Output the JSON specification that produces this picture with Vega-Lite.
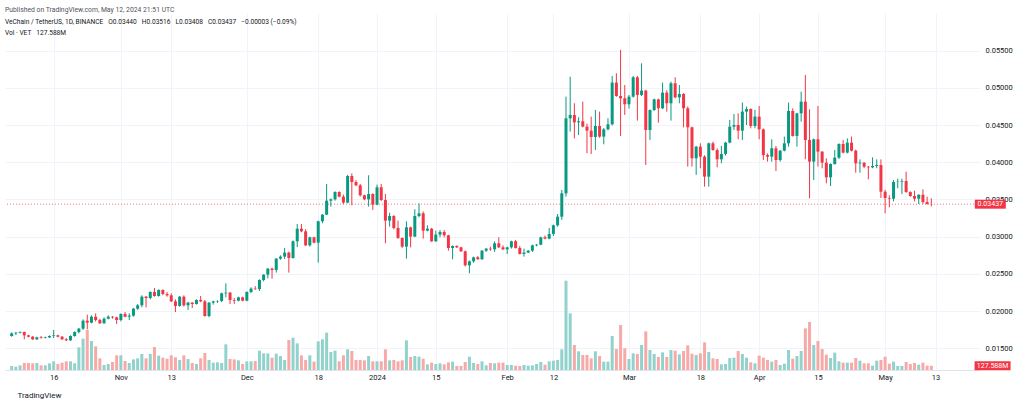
{
  "$schema": "https://vega.github.io/schema/vega-lite/v6.json",
  "width": 975,
  "height": 357,
  "autosize": {"type": "none"},
  "padding": {"left": 5, "top": 13, "right": 44, "bottom": 34},
  "background": "white",
  "title": {
    "text": "Published on TradingView.com, May 12, 2024 21:51 UTC",
    "subtitle": ["\u2002VeChain / TetherUS, 1D, BINANCE\u2002 O0.03440\u2002 H0.03516\u2002 L0.03408\u2002 C0.03437\u2002 −0.00003 (−0.09%)", "\u2002Vol · VET\u2002 127.588M"],
    "anchor": "start",
    "frame": "group",
    "font": "Roboto",
    "fontSize": 6.8,
    "fontWeight": "normal",
    "color": "#50535e",
    "subtitleFont": "Roboto",
    "subtitleFontSize": 6.6,
    "subtitleColor": "#131722",
    "subtitlePadding": 6,
    "subtitleLineHeight": 11,
    "offset": -24
  },
  "data": {
    "values": [
      {"date": "2023-10-06", "open": 0.01665, "high": 0.01715, "low": 0.01656, "close": 0.01701, "volume": 120},
      {"date": "2023-10-07", "open": 0.01701, "high": 0.01719, "low": 0.01679, "close": 0.01710, "volume": 100},
      {"date": "2023-10-08", "open": 0.01710, "high": 0.01728, "low": 0.01701, "close": 0.01719, "volume": 140},
      {"date": "2023-10-09", "open": 0.01719, "high": 0.01724, "low": 0.01621, "close": 0.01674, "volume": 210},
      {"date": "2023-10-10", "open": 0.01674, "high": 0.01683, "low": 0.01647, "close": 0.01656, "volume": 210},
      {"date": "2023-10-11", "open": 0.01656, "high": 0.01665, "low": 0.01612, "close": 0.01621, "volume": 200},
      {"date": "2023-10-12", "open": 0.01621, "high": 0.01656, "low": 0.01612, "close": 0.01647, "volume": 210},
      {"date": "2023-10-13", "open": 0.01647, "high": 0.01665, "low": 0.01630, "close": 0.01638, "volume": 140},
      {"date": "2023-10-14", "open": 0.01638, "high": 0.01656, "low": 0.01634, "close": 0.01647, "volume": 140},
      {"date": "2023-10-15", "open": 0.01647, "high": 0.01674, "low": 0.01638, "close": 0.01665, "volume": 200},
      {"date": "2023-10-16", "open": 0.01665, "high": 0.01746, "low": 0.01638, "close": 0.01674, "volume": 260},
      {"date": "2023-10-17", "open": 0.01674, "high": 0.01683, "low": 0.01647, "close": 0.01656, "volume": 180},
      {"date": "2023-10-18", "open": 0.01656, "high": 0.01665, "low": 0.01612, "close": 0.01621, "volume": 220},
      {"date": "2023-10-19", "open": 0.01621, "high": 0.01638, "low": 0.01598, "close": 0.01607, "volume": 260},
      {"date": "2023-10-20", "open": 0.01607, "high": 0.01674, "low": 0.01600, "close": 0.01665, "volume": 260},
      {"date": "2023-10-21", "open": 0.01665, "high": 0.01728, "low": 0.01656, "close": 0.01719, "volume": 200},
      {"date": "2023-10-22", "open": 0.01719, "high": 0.01773, "low": 0.01701, "close": 0.01764, "volume": 680},
      {"date": "2023-10-23", "open": 0.01764, "high": 0.01889, "low": 0.01746, "close": 0.01871, "volume": 940},
      {"date": "2023-10-24", "open": 0.01871, "high": 0.01952, "low": 0.01755, "close": 0.01845, "volume": 1200},
      {"date": "2023-10-25", "open": 0.01845, "high": 0.01943, "low": 0.01836, "close": 0.01925, "volume": 870},
      {"date": "2023-10-26", "open": 0.01925, "high": 0.01970, "low": 0.01860, "close": 0.01880, "volume": 710},
      {"date": "2023-10-27", "open": 0.01880, "high": 0.01898, "low": 0.01827, "close": 0.01836, "volume": 350},
      {"date": "2023-10-28", "open": 0.01836, "high": 0.01916, "low": 0.01830, "close": 0.01898, "volume": 150},
      {"date": "2023-10-29", "open": 0.01898, "high": 0.01943, "low": 0.01889, "close": 0.01925, "volume": 180},
      {"date": "2023-10-30", "open": 0.01925, "high": 0.01934, "low": 0.01898, "close": 0.01916, "volume": 240},
      {"date": "2023-10-31", "open": 0.01916, "high": 0.01925, "low": 0.01827, "close": 0.01880, "volume": 440},
      {"date": "2023-11-01", "open": 0.01880, "high": 0.01970, "low": 0.01862, "close": 0.01961, "volume": 440},
      {"date": "2023-11-02", "open": 0.01961, "high": 0.01988, "low": 0.01916, "close": 0.01925, "volume": 270},
      {"date": "2023-11-03", "open": 0.01925, "high": 0.01970, "low": 0.01880, "close": 0.01939, "volume": 210},
      {"date": "2023-11-04", "open": 0.01939, "high": 0.02042, "low": 0.01925, "close": 0.02033, "volume": 320},
      {"date": "2023-11-05", "open": 0.02033, "high": 0.02095, "low": 0.02015, "close": 0.02078, "volume": 350},
      {"date": "2023-11-06", "open": 0.02078, "high": 0.02212, "low": 0.02051, "close": 0.02194, "volume": 480},
      {"date": "2023-11-07", "open": 0.02194, "high": 0.02203, "low": 0.02051, "close": 0.02176, "volume": 350},
      {"date": "2023-11-08", "open": 0.02176, "high": 0.02266, "low": 0.02158, "close": 0.02257, "volume": 480},
      {"date": "2023-11-09", "open": 0.02257, "high": 0.02310, "low": 0.02194, "close": 0.02203, "volume": 690},
      {"date": "2023-11-10", "open": 0.02203, "high": 0.02293, "low": 0.02194, "close": 0.02284, "volume": 430},
      {"date": "2023-11-11", "open": 0.02284, "high": 0.02293, "low": 0.02212, "close": 0.02230, "volume": 370},
      {"date": "2023-11-12", "open": 0.02230, "high": 0.02257, "low": 0.02194, "close": 0.02212, "volume": 340},
      {"date": "2023-11-13", "open": 0.02212, "high": 0.02239, "low": 0.02122, "close": 0.02131, "volume": 440},
      {"date": "2023-11-14", "open": 0.02131, "high": 0.02158, "low": 0.01988, "close": 0.02069, "volume": 380},
      {"date": "2023-11-15", "open": 0.02069, "high": 0.02203, "low": 0.02060, "close": 0.02194, "volume": 300},
      {"date": "2023-11-16", "open": 0.02194, "high": 0.02212, "low": 0.02060, "close": 0.02078, "volume": 440},
      {"date": "2023-11-17", "open": 0.02078, "high": 0.02125, "low": 0.02015, "close": 0.02114, "volume": 330},
      {"date": "2023-11-18", "open": 0.02114, "high": 0.02120, "low": 0.02042, "close": 0.02096, "volume": 210},
      {"date": "2023-11-19", "open": 0.02096, "high": 0.02158, "low": 0.02087, "close": 0.02149, "volume": 180},
      {"date": "2023-11-20", "open": 0.02149, "high": 0.02203, "low": 0.02120, "close": 0.02131, "volume": 350},
      {"date": "2023-11-21", "open": 0.02131, "high": 0.02149, "low": 0.01925, "close": 0.01934, "volume": 510},
      {"date": "2023-11-22", "open": 0.01934, "high": 0.02120, "low": 0.01916, "close": 0.02114, "volume": 300},
      {"date": "2023-11-23", "open": 0.02114, "high": 0.02140, "low": 0.02087, "close": 0.02131, "volume": 220},
      {"date": "2023-11-24", "open": 0.02131, "high": 0.02145, "low": 0.02110, "close": 0.02136, "volume": 230},
      {"date": "2023-11-25", "open": 0.02136, "high": 0.02248, "low": 0.02120, "close": 0.02239, "volume": 210},
      {"date": "2023-11-26", "open": 0.02239, "high": 0.02373, "low": 0.02185, "close": 0.02248, "volume": 770},
      {"date": "2023-11-27", "open": 0.02248, "high": 0.02257, "low": 0.02096, "close": 0.02149, "volume": 330},
      {"date": "2023-11-28", "open": 0.02149, "high": 0.02175, "low": 0.02096, "close": 0.02140, "volume": 320},
      {"date": "2023-11-29", "open": 0.02140, "high": 0.02194, "low": 0.02131, "close": 0.02185, "volume": 290},
      {"date": "2023-11-30", "open": 0.02185, "high": 0.02194, "low": 0.02131, "close": 0.02140, "volume": 180},
      {"date": "2023-12-01", "open": 0.02140, "high": 0.02266, "low": 0.02131, "close": 0.02257, "volume": 260},
      {"date": "2023-12-02", "open": 0.02257, "high": 0.02320, "low": 0.02240, "close": 0.02302, "volume": 260},
      {"date": "2023-12-03", "open": 0.02302, "high": 0.02335, "low": 0.02285, "close": 0.02295, "volume": 270},
      {"date": "2023-12-04", "open": 0.02295, "high": 0.02427, "low": 0.02270, "close": 0.02418, "volume": 580},
      {"date": "2023-12-05", "open": 0.02418, "high": 0.02495, "low": 0.02400, "close": 0.02490, "volume": 500},
      {"date": "2023-12-06", "open": 0.02490, "high": 0.02580, "low": 0.02440, "close": 0.02571, "volume": 500},
      {"date": "2023-12-07", "open": 0.02571, "high": 0.02585, "low": 0.02436, "close": 0.02553, "volume": 370},
      {"date": "2023-12-08", "open": 0.02553, "high": 0.02714, "low": 0.02517, "close": 0.02705, "volume": 490},
      {"date": "2023-12-09", "open": 0.02705, "high": 0.02750, "low": 0.02690, "close": 0.02732, "volume": 420},
      {"date": "2023-12-10", "open": 0.02732, "high": 0.02848, "low": 0.02700, "close": 0.02786, "volume": 300},
      {"date": "2023-12-11", "open": 0.02786, "high": 0.02800, "low": 0.02517, "close": 0.02714, "volume": 900},
      {"date": "2023-12-12", "open": 0.02714, "high": 0.02950, "low": 0.02705, "close": 0.02938, "volume": 970},
      {"date": "2023-12-13", "open": 0.02938, "high": 0.03171, "low": 0.02860, "close": 0.03108, "volume": 800},
      {"date": "2023-12-14", "open": 0.03108, "high": 0.03171, "low": 0.03060, "close": 0.03072, "volume": 440},
      {"date": "2023-12-15", "open": 0.03072, "high": 0.03100, "low": 0.02875, "close": 0.02884, "volume": 300},
      {"date": "2023-12-16", "open": 0.02884, "high": 0.03000, "low": 0.02866, "close": 0.02992, "volume": 440},
      {"date": "2023-12-17", "open": 0.02992, "high": 0.03000, "low": 0.02910, "close": 0.02920, "volume": 250},
      {"date": "2023-12-18", "open": 0.02920, "high": 0.03215, "low": 0.02651, "close": 0.03207, "volume": 860},
      {"date": "2023-12-19", "open": 0.03207, "high": 0.03305, "low": 0.03180, "close": 0.03296, "volume": 920},
      {"date": "2023-12-20", "open": 0.03296, "high": 0.03708, "low": 0.03290, "close": 0.03484, "volume": 1120},
      {"date": "2023-12-21", "open": 0.03484, "high": 0.03515, "low": 0.03404, "close": 0.03502, "volume": 540},
      {"date": "2023-12-22", "open": 0.03502, "high": 0.03610, "low": 0.03484, "close": 0.03601, "volume": 580},
      {"date": "2023-12-23", "open": 0.03601, "high": 0.03610, "low": 0.03530, "close": 0.03538, "volume": 260},
      {"date": "2023-12-24", "open": 0.03538, "high": 0.03565, "low": 0.03440, "close": 0.03458, "volume": 440},
      {"date": "2023-12-25", "open": 0.03458, "high": 0.03830, "low": 0.03450, "close": 0.03816, "volume": 620},
      {"date": "2023-12-26", "open": 0.03816, "high": 0.03852, "low": 0.03422, "close": 0.03735, "volume": 570},
      {"date": "2023-12-27", "open": 0.03735, "high": 0.03760, "low": 0.03680, "close": 0.03690, "volume": 300},
      {"date": "2023-12-28", "open": 0.03690, "high": 0.03710, "low": 0.03540, "close": 0.03556, "volume": 300},
      {"date": "2023-12-29", "open": 0.03556, "high": 0.03565, "low": 0.03490, "close": 0.03502, "volume": 290},
      {"date": "2023-12-30", "open": 0.03502, "high": 0.03825, "low": 0.03404, "close": 0.03574, "volume": 420},
      {"date": "2023-12-31", "open": 0.03574, "high": 0.03583, "low": 0.03359, "close": 0.03431, "volume": 260},
      {"date": "2024-01-01", "open": 0.03431, "high": 0.03700, "low": 0.03422, "close": 0.03664, "volume": 260},
      {"date": "2024-01-02", "open": 0.03664, "high": 0.03708, "low": 0.03480, "close": 0.03493, "volume": 260},
      {"date": "2024-01-03", "open": 0.03493, "high": 0.03574, "low": 0.02911, "close": 0.03216, "volume": 620},
      {"date": "2024-01-04", "open": 0.03216, "high": 0.03323, "low": 0.03135, "close": 0.03278, "volume": 290},
      {"date": "2024-01-05", "open": 0.03278, "high": 0.03290, "low": 0.03100, "close": 0.03117, "volume": 300},
      {"date": "2024-01-06", "open": 0.03117, "high": 0.03216, "low": 0.02970, "close": 0.02983, "volume": 260},
      {"date": "2024-01-07", "open": 0.02983, "high": 0.02990, "low": 0.02850, "close": 0.02866, "volume": 290},
      {"date": "2024-01-08", "open": 0.02866, "high": 0.03207, "low": 0.02705, "close": 0.03126, "volume": 890},
      {"date": "2024-01-09", "open": 0.03126, "high": 0.03135, "low": 0.02857, "close": 0.03001, "volume": 390},
      {"date": "2024-01-10", "open": 0.03001, "high": 0.03368, "low": 0.02995, "close": 0.03278, "volume": 420},
      {"date": "2024-01-11", "open": 0.03278, "high": 0.03449, "low": 0.03260, "close": 0.03314, "volume": 400},
      {"date": "2024-01-12", "open": 0.03314, "high": 0.03340, "low": 0.02974, "close": 0.03081, "volume": 340},
      {"date": "2024-01-13", "open": 0.03081, "high": 0.03153, "low": 0.03072, "close": 0.03108, "volume": 170},
      {"date": "2024-01-14", "open": 0.03108, "high": 0.03117, "low": 0.02930, "close": 0.02938, "volume": 220},
      {"date": "2024-01-15", "open": 0.02938, "high": 0.03081, "low": 0.02930, "close": 0.03028, "volume": 180},
      {"date": "2024-01-16", "open": 0.03028, "high": 0.03090, "low": 0.02992, "close": 0.03063, "volume": 200},
      {"date": "2024-01-17", "open": 0.03063, "high": 0.03090, "low": 0.02992, "close": 0.03019, "volume": 170},
      {"date": "2024-01-18", "open": 0.03019, "high": 0.03025, "low": 0.02812, "close": 0.02848, "volume": 230},
      {"date": "2024-01-19", "open": 0.02848, "high": 0.02885, "low": 0.02696, "close": 0.02875, "volume": 250},
      {"date": "2024-01-20", "open": 0.02875, "high": 0.02885, "low": 0.02848, "close": 0.02857, "volume": 120},
      {"date": "2024-01-21", "open": 0.02857, "high": 0.02866, "low": 0.02795, "close": 0.02804, "volume": 120},
      {"date": "2024-01-22", "open": 0.02804, "high": 0.02813, "low": 0.02600, "close": 0.02615, "volume": 240},
      {"date": "2024-01-23", "open": 0.02615, "high": 0.02680, "low": 0.02508, "close": 0.02669, "volume": 400},
      {"date": "2024-01-24", "open": 0.02669, "high": 0.02732, "low": 0.02650, "close": 0.02723, "volume": 210},
      {"date": "2024-01-25", "open": 0.02723, "high": 0.02741, "low": 0.02690, "close": 0.02696, "volume": 180},
      {"date": "2024-01-26", "open": 0.02696, "high": 0.02820, "low": 0.02690, "close": 0.02812, "volume": 260},
      {"date": "2024-01-27", "open": 0.02812, "high": 0.02848, "low": 0.02795, "close": 0.02839, "volume": 140},
      {"date": "2024-01-28", "open": 0.02839, "high": 0.02866, "low": 0.02810, "close": 0.02830, "volume": 210},
      {"date": "2024-01-29", "open": 0.02830, "high": 0.02938, "low": 0.02795, "close": 0.02911, "volume": 200},
      {"date": "2024-01-30", "open": 0.02911, "high": 0.02992, "low": 0.02848, "close": 0.02857, "volume": 220},
      {"date": "2024-01-31", "open": 0.02857, "high": 0.02884, "low": 0.02820, "close": 0.02830, "volume": 220},
      {"date": "2024-02-01", "open": 0.02830, "high": 0.02866, "low": 0.02768, "close": 0.02857, "volume": 150},
      {"date": "2024-02-02", "open": 0.02857, "high": 0.02947, "low": 0.02840, "close": 0.02938, "volume": 150},
      {"date": "2024-02-03", "open": 0.02938, "high": 0.02956, "low": 0.02840, "close": 0.02848, "volume": 130},
      {"date": "2024-02-04", "open": 0.02848, "high": 0.02875, "low": 0.02760, "close": 0.02768, "volume": 120},
      {"date": "2024-02-05", "open": 0.02768, "high": 0.02839, "low": 0.02732, "close": 0.02786, "volume": 150},
      {"date": "2024-02-06", "open": 0.02786, "high": 0.02820, "low": 0.02780, "close": 0.02812, "volume": 130},
      {"date": "2024-02-07", "open": 0.02812, "high": 0.02893, "low": 0.02795, "close": 0.02884, "volume": 140},
      {"date": "2024-02-08", "open": 0.02884, "high": 0.02902, "low": 0.02870, "close": 0.02893, "volume": 180},
      {"date": "2024-02-09", "open": 0.02893, "high": 0.03000, "low": 0.02885, "close": 0.02992, "volume": 240},
      {"date": "2024-02-10", "open": 0.02992, "high": 0.03015, "low": 0.02965, "close": 0.02974, "volume": 160},
      {"date": "2024-02-11", "open": 0.02974, "high": 0.03117, "low": 0.02965, "close": 0.03037, "volume": 260},
      {"date": "2024-02-12", "open": 0.03037, "high": 0.03162, "low": 0.03010, "close": 0.03153, "volume": 280},
      {"date": "2024-02-13", "open": 0.03153, "high": 0.03305, "low": 0.03135, "close": 0.03269, "volume": 300},
      {"date": "2024-02-14", "open": 0.03269, "high": 0.03628, "low": 0.03225, "close": 0.03583, "volume": 620},
      {"date": "2024-02-15", "open": 0.03583, "high": 0.04882, "low": 0.03538, "close": 0.04591, "volume": 2680},
      {"date": "2024-02-16", "open": 0.04591, "high": 0.05151, "low": 0.04412, "close": 0.04636, "volume": 1700},
      {"date": "2024-02-17", "open": 0.04636, "high": 0.04793, "low": 0.04322, "close": 0.04537, "volume": 750},
      {"date": "2024-02-18", "open": 0.04537, "high": 0.04605, "low": 0.04367, "close": 0.04551, "volume": 560},
      {"date": "2024-02-19", "open": 0.04551, "high": 0.04815, "low": 0.04470, "close": 0.04479, "volume": 450},
      {"date": "2024-02-20", "open": 0.04479, "high": 0.04520, "low": 0.04121, "close": 0.04425, "volume": 450},
      {"date": "2024-02-21", "open": 0.04425, "high": 0.04614, "low": 0.04112, "close": 0.04340, "volume": 350},
      {"date": "2024-02-22", "open": 0.04340, "high": 0.04703, "low": 0.04166, "close": 0.04488, "volume": 560},
      {"date": "2024-02-23", "open": 0.04488, "high": 0.04681, "low": 0.04330, "close": 0.04345, "volume": 420},
      {"date": "2024-02-24", "open": 0.04345, "high": 0.04460, "low": 0.04242, "close": 0.04443, "volume": 250},
      {"date": "2024-02-25", "open": 0.04443, "high": 0.04591, "low": 0.04430, "close": 0.04511, "volume": 250},
      {"date": "2024-02-26", "open": 0.04511, "high": 0.05160, "low": 0.04495, "close": 0.05071, "volume": 1020},
      {"date": "2024-02-27", "open": 0.05071, "high": 0.05196, "low": 0.04880, "close": 0.04891, "volume": 630},
      {"date": "2024-02-28", "open": 0.04891, "high": 0.05510, "low": 0.04354, "close": 0.04860, "volume": 1350},
      {"date": "2024-02-29", "open": 0.04860, "high": 0.05039, "low": 0.04636, "close": 0.04780, "volume": 650},
      {"date": "2024-03-01", "open": 0.04780, "high": 0.04905, "low": 0.04721, "close": 0.04882, "volume": 330},
      {"date": "2024-03-02", "open": 0.04882, "high": 0.05160, "low": 0.04870, "close": 0.05142, "volume": 500},
      {"date": "2024-03-03", "open": 0.05142, "high": 0.05160, "low": 0.04560, "close": 0.04905, "volume": 480},
      {"date": "2024-03-04", "open": 0.04905, "high": 0.05330, "low": 0.04890, "close": 0.04963, "volume": 750},
      {"date": "2024-03-05", "open": 0.04963, "high": 0.04975, "low": 0.03964, "close": 0.04434, "volume": 1160},
      {"date": "2024-03-06", "open": 0.04434, "high": 0.04710, "low": 0.04300, "close": 0.04703, "volume": 600},
      {"date": "2024-03-07", "open": 0.04703, "high": 0.04855, "low": 0.04690, "close": 0.04846, "volume": 480},
      {"date": "2024-03-08", "open": 0.04846, "high": 0.04855, "low": 0.04533, "close": 0.04726, "volume": 390},
      {"date": "2024-03-09", "open": 0.04726, "high": 0.05071, "low": 0.04715, "close": 0.04936, "volume": 530},
      {"date": "2024-03-10", "open": 0.04936, "high": 0.04970, "low": 0.04681, "close": 0.04793, "volume": 390},
      {"date": "2024-03-11", "open": 0.04793, "high": 0.05085, "low": 0.04560, "close": 0.05062, "volume": 600},
      {"date": "2024-03-12", "open": 0.05062, "high": 0.05142, "low": 0.04860, "close": 0.04873, "volume": 580},
      {"date": "2024-03-13", "open": 0.04873, "high": 0.05039, "low": 0.04793, "close": 0.04918, "volume": 470},
      {"date": "2024-03-14", "open": 0.04918, "high": 0.04930, "low": 0.04470, "close": 0.04726, "volume": 570},
      {"date": "2024-03-15", "open": 0.04726, "high": 0.04750, "low": 0.03942, "close": 0.04470, "volume": 740},
      {"date": "2024-03-16", "open": 0.04470, "high": 0.04480, "low": 0.03942, "close": 0.04054, "volume": 490},
      {"date": "2024-03-17", "open": 0.04054, "high": 0.04220, "low": 0.03830, "close": 0.04210, "volume": 450},
      {"date": "2024-03-18", "open": 0.04210, "high": 0.04255, "low": 0.03919, "close": 0.04076, "volume": 500},
      {"date": "2024-03-19", "open": 0.04076, "high": 0.04095, "low": 0.03673, "close": 0.03807, "volume": 830},
      {"date": "2024-03-20", "open": 0.03807, "high": 0.04265, "low": 0.03673, "close": 0.04255, "volume": 540},
      {"date": "2024-03-21", "open": 0.04255, "high": 0.04278, "low": 0.04155, "close": 0.04165, "volume": 350},
      {"date": "2024-03-22", "open": 0.04165, "high": 0.04188, "low": 0.03933, "close": 0.04040, "volume": 330},
      {"date": "2024-03-23", "open": 0.04040, "high": 0.04219, "low": 0.03986, "close": 0.04112, "volume": 170},
      {"date": "2024-03-24", "open": 0.04112, "high": 0.04275, "low": 0.04090, "close": 0.04264, "volume": 180},
      {"date": "2024-03-25", "open": 0.04264, "high": 0.04569, "low": 0.04255, "close": 0.04479, "volume": 360},
      {"date": "2024-03-26", "open": 0.04479, "high": 0.04649, "low": 0.04434, "close": 0.04501, "volume": 370},
      {"date": "2024-03-27", "open": 0.04501, "high": 0.04658, "low": 0.04309, "close": 0.04425, "volume": 570},
      {"date": "2024-03-28", "open": 0.04425, "high": 0.04802, "low": 0.04300, "close": 0.04681, "volume": 480},
      {"date": "2024-03-29", "open": 0.04681, "high": 0.04748, "low": 0.04501, "close": 0.04716, "volume": 370},
      {"date": "2024-03-30", "open": 0.04716, "high": 0.04725, "low": 0.04457, "close": 0.04488, "volume": 230},
      {"date": "2024-03-31", "open": 0.04488, "high": 0.04703, "low": 0.04457, "close": 0.04614, "volume": 200},
      {"date": "2024-04-01", "open": 0.04614, "high": 0.04757, "low": 0.04309, "close": 0.04443, "volume": 430},
      {"date": "2024-04-02", "open": 0.04443, "high": 0.04455, "low": 0.04031, "close": 0.04098, "volume": 370},
      {"date": "2024-04-03", "open": 0.04098, "high": 0.04120, "low": 0.04009, "close": 0.04076, "volume": 300},
      {"date": "2024-04-04", "open": 0.04076, "high": 0.04309, "low": 0.04009, "close": 0.04188, "volume": 250},
      {"date": "2024-04-05", "open": 0.04188, "high": 0.04220, "low": 0.03883, "close": 0.04031, "volume": 300},
      {"date": "2024-04-06", "open": 0.04031, "high": 0.04165, "low": 0.04009, "close": 0.04156, "volume": 150},
      {"date": "2024-04-07", "open": 0.04156, "high": 0.04345, "low": 0.04147, "close": 0.04255, "volume": 190},
      {"date": "2024-04-08", "open": 0.04255, "high": 0.04802, "low": 0.04210, "close": 0.04690, "volume": 600},
      {"date": "2024-04-09", "open": 0.04690, "high": 0.04725, "low": 0.04345, "close": 0.04354, "volume": 340},
      {"date": "2024-04-10", "open": 0.04354, "high": 0.04665, "low": 0.04210, "close": 0.04658, "volume": 420},
      {"date": "2024-04-11", "open": 0.04658, "high": 0.04949, "low": 0.04546, "close": 0.04815, "volume": 570},
      {"date": "2024-04-12", "open": 0.04815, "high": 0.05173, "low": 0.04040, "close": 0.04300, "volume": 1250},
      {"date": "2024-04-13", "open": 0.04300, "high": 0.04712, "low": 0.03516, "close": 0.04009, "volume": 1440},
      {"date": "2024-04-14", "open": 0.04009, "high": 0.04318, "low": 0.03762, "close": 0.04309, "volume": 750},
      {"date": "2024-04-15", "open": 0.04309, "high": 0.04757, "low": 0.03942, "close": 0.04143, "volume": 870},
      {"date": "2024-04-16", "open": 0.04143, "high": 0.04150, "low": 0.03919, "close": 0.03995, "volume": 630},
      {"date": "2024-04-17", "open": 0.03995, "high": 0.04053, "low": 0.03717, "close": 0.03798, "volume": 460},
      {"date": "2024-04-18", "open": 0.03798, "high": 0.03985, "low": 0.03682, "close": 0.03977, "volume": 360},
      {"date": "2024-04-19", "open": 0.03977, "high": 0.04165, "low": 0.03968, "close": 0.04062, "volume": 520},
      {"date": "2024-04-20", "open": 0.04062, "high": 0.04255, "low": 0.04045, "close": 0.04246, "volume": 260},
      {"date": "2024-04-21", "open": 0.04246, "high": 0.04300, "low": 0.04120, "close": 0.04130, "volume": 220},
      {"date": "2024-04-22", "open": 0.04130, "high": 0.04322, "low": 0.04120, "close": 0.04264, "volume": 220},
      {"date": "2024-04-23", "open": 0.04264, "high": 0.04345, "low": 0.04145, "close": 0.04156, "volume": 220},
      {"date": "2024-04-24", "open": 0.04156, "high": 0.04170, "low": 0.03860, "close": 0.03986, "volume": 360},
      {"date": "2024-04-25", "open": 0.03986, "high": 0.04039, "low": 0.03860, "close": 0.03995, "volume": 280},
      {"date": "2024-04-26", "open": 0.03995, "high": 0.04000, "low": 0.03920, "close": 0.03941, "volume": 200},
      {"date": "2024-04-27", "open": 0.03941, "high": 0.03950, "low": 0.03771, "close": 0.03932, "volume": 200},
      {"date": "2024-04-28", "open": 0.03932, "high": 0.04066, "low": 0.03920, "close": 0.03950, "volume": 130},
      {"date": "2024-04-29", "open": 0.03950, "high": 0.04039, "low": 0.03920, "close": 0.03963, "volume": 280},
      {"date": "2024-04-30", "open": 0.03963, "high": 0.04039, "low": 0.03520, "close": 0.03605, "volume": 300},
      {"date": "2024-05-01", "open": 0.03605, "high": 0.03630, "low": 0.03314, "close": 0.03520, "volume": 400},
      {"date": "2024-05-02", "open": 0.03520, "high": 0.03556, "low": 0.03394, "close": 0.03511, "volume": 190},
      {"date": "2024-05-03", "open": 0.03511, "high": 0.03762, "low": 0.03475, "close": 0.03735, "volume": 250},
      {"date": "2024-05-04", "open": 0.03735, "high": 0.03780, "low": 0.03650, "close": 0.03739, "volume": 120},
      {"date": "2024-05-05", "open": 0.03739, "high": 0.03780, "low": 0.03573, "close": 0.03748, "volume": 120},
      {"date": "2024-05-06", "open": 0.03748, "high": 0.03874, "low": 0.03590, "close": 0.03600, "volume": 240},
      {"date": "2024-05-07", "open": 0.03600, "high": 0.03610, "low": 0.03535, "close": 0.03547, "volume": 180},
      {"date": "2024-05-08", "open": 0.03547, "high": 0.03618, "low": 0.03475, "close": 0.03511, "volume": 210},
      {"date": "2024-05-09", "open": 0.03511, "high": 0.03570, "low": 0.03439, "close": 0.03564, "volume": 160},
      {"date": "2024-05-10", "open": 0.03564, "high": 0.03636, "low": 0.03439, "close": 0.03466, "volume": 220},
      {"date": "2024-05-11", "open": 0.03466, "high": 0.03538, "low": 0.03430, "close": 0.03440, "volume": 130},
      {"date": "2024-05-12", "open": 0.03440, "high": 0.03516, "low": 0.03408, "close": 0.03437, "volume": 127.588}
    ]
  },
  "layer": [
    {
      "layer": [
        {
          "mark": {"type": "bar", "size": 3},
          "encoding": {
            "x": {
              "field": "date",
              "type": "temporal",
              "title": "TradingView",
              "scale": {
                "type": "utc",
                "domain": [
                  {"year": 2023, "month": 10, "date": 5, "hours": 14, "minutes": 24, "utc": true},
                  {"year": 2024, "month": 5, "date": 22, "hours": 9, "minutes": 36, "utc": true}
                ]
              }
            },
            "y": {"field": "volume", "type": "quantitative", "scale": {"domain": [0, 10710], "nice": false}, "axis": null},
            "color": {"condition": {"test": "datum.close >= datum.open", "value": "#92d2cc"}, "value": "#f7a9a7"}
          }
        },
        {
          "data": {"values": [{"label": "127.588M"}]},
          "mark": {"type": "point", "shape": "M-1,-0.25L1,-0.25L1,0.25L-1,0.25Z", "size": 1296, "filled": true, "opacity": 1, "color": "#f23645"},
          "encoding": {
            "x": {"datum": {"year": 2024, "month": 5, "date": 26, "hours": 14, "utc": true}, "type": "temporal", "title": "TradingView"},
            "y": {"datum": 127.588, "type": "quantitative"}
          }
        },
        {
          "data": {"values": [{"label": "127.588M"}]},
          "mark": {"type": "text", "color": "white", "font": "Roboto", "fontSize": 7, "align": "center", "baseline": "middle"},
          "encoding": {
            "x": {"datum": {"year": 2024, "month": 5, "date": 26, "hours": 14, "utc": true}, "type": "temporal", "title": "TradingView"},
            "y": {"datum": 127.588, "type": "quantitative"},
            "text": {"field": "label"}
          }
        }
      ]
    },
    {
      "layer": [
        {
          "mark": {"type": "rule", "strokeWidth": 1},
          "encoding": {
            "x": {
              "field": "date",
              "type": "temporal",
              "title": "TradingView",
              "scale": {
                "type": "utc",
                "domain": [
                  {"year": 2023, "month": 10, "date": 5, "hours": 14, "minutes": 24, "utc": true},
                  {"year": 2024, "month": 5, "date": 22, "hours": 9, "minutes": 36, "utc": true}
                ]
              },
              "axis": {
                "values": [
                  {"year": 2023, "month": 10, "date": 16, "utc": true},
                  {"year": 2023, "month": 11, "date": 1, "utc": true},
                  {"year": 2023, "month": 11, "date": 13, "utc": true},
                  {"year": 2023, "month": 12, "date": 1, "utc": true},
                  {"year": 2023, "month": 12, "date": 18, "utc": true},
                  {"year": 2024, "month": 1, "date": 1, "utc": true},
                  {"year": 2024, "month": 1, "date": 15, "utc": true},
                  {"year": 2024, "month": 2, "date": 1, "utc": true},
                  {"year": 2024, "month": 2, "date": 12, "utc": true},
                  {"year": 2024, "month": 3, "date": 1, "utc": true},
                  {"year": 2024, "month": 3, "date": 18, "utc": true},
                  {"year": 2024, "month": 4, "date": 1, "utc": true},
                  {"year": 2024, "month": 4, "date": 15, "utc": true},
                  {"year": 2024, "month": 5, "date": 1, "utc": true},
                  {"year": 2024, "month": 5, "date": 13, "utc": true}
                ],
                "labelExpr": "utcdate(datum.value) == 1 ? (utcmonth(datum.value) == 0 ? utcFormat(datum.value, '%Y') : utcFormat(datum.value, '%b')) : utcFormat(datum.value, '%-d')",
                "labelOverlap": false,
                "labelFlush": false,
                "grid": true,
                "gridColor": "#f0f3fa",
                "domain": true,
                "domainColor": "#e0e3eb",
                "ticks": false,
                "labelPadding": 3,
                "labelFont": "Roboto",
                "labelFontSize": 7.5,
                "labelColor": "#131722",
                "titleFont": "Roboto",
                "titleFontSize": 8,
                "titleFontWeight": "normal",
                "titleColor": "#131722",
                "titleAnchor": "start",
                "titleAlign": "left",
                "titleBaseline": "middle",
                "titleX": 12,
                "titleY": 25
              }
            },
            "y": {
              "field": "low",
              "type": "quantitative",
              "scale": {"domain": [0.012084, 0.060064], "nice": false, "zero": false},
              "axis": {
                "orient": "right",
                "values": [0.015, 0.02, 0.025, 0.03, 0.035, 0.04, 0.045, 0.05, 0.055],
                "format": ".5f",
                "grid": true,
                "gridColor": "#f0f3fa",
                "domain": false,
                "ticks": false,
                "labelPadding": 5,
                "labelFont": "Roboto",
                "labelFontSize": 7.5,
                "labelColor": "#131722",
                "title": null
              }
            },
            "y2": {"field": "high"},
            "color": {"condition": {"test": "datum.close >= datum.open", "value": "#089981"}, "value": "#f23645"}
          }
        },
        {
          "mark": {"type": "bar", "size": 3},
          "encoding": {
            "x": {"field": "date", "type": "temporal", "title": "TradingView"},
            "y": {"field": "open", "type": "quantitative"},
            "y2": {"field": "close"},
            "color": {"condition": {"test": "datum.close >= datum.open", "value": "#089981"}, "value": "#f23645"}
          }
        },
        {
          "data": {"values": [{"price": 0.03437}]},
          "mark": {"type": "rule", "color": "#f23645", "strokeDash": [1, 2], "strokeWidth": 1, "opacity": 0.7},
          "encoding": {
            "y": {"field": "price", "type": "quantitative"}
          }
        },
        {
          "data": {"values": [{"price": 0.03437}]},
          "mark": {"type": "point", "shape": "M-1,-0.29L1,-0.29L1,0.29L-1,0.29Z", "size": 961, "filled": true, "opacity": 1, "color": "#f23645"},
          "encoding": {
            "x": {"datum": {"year": 2024, "month": 5, "date": 26, "hours": 1, "utc": true}, "type": "temporal", "title": "TradingView"},
            "y": {"field": "price", "type": "quantitative"}
          }
        },
        {
          "data": {"values": [{"price": 0.03437, "label": "0.03437"}]},
          "mark": {"type": "text", "color": "white", "font": "Roboto", "fontSize": 7, "align": "center", "baseline": "middle"},
          "encoding": {
            "x": {"datum": {"year": 2024, "month": 5, "date": 26, "hours": 1, "utc": true}, "type": "temporal", "title": "TradingView"},
            "y": {"field": "price", "type": "quantitative"},
            "text": {"field": "label"}
          }
        }
      ]
    }
  ],
  "resolve": {"scale": {"y": "independent"}},
  "config": {
    "view": {"stroke": null},
    "font": "Roboto"
  }
}
